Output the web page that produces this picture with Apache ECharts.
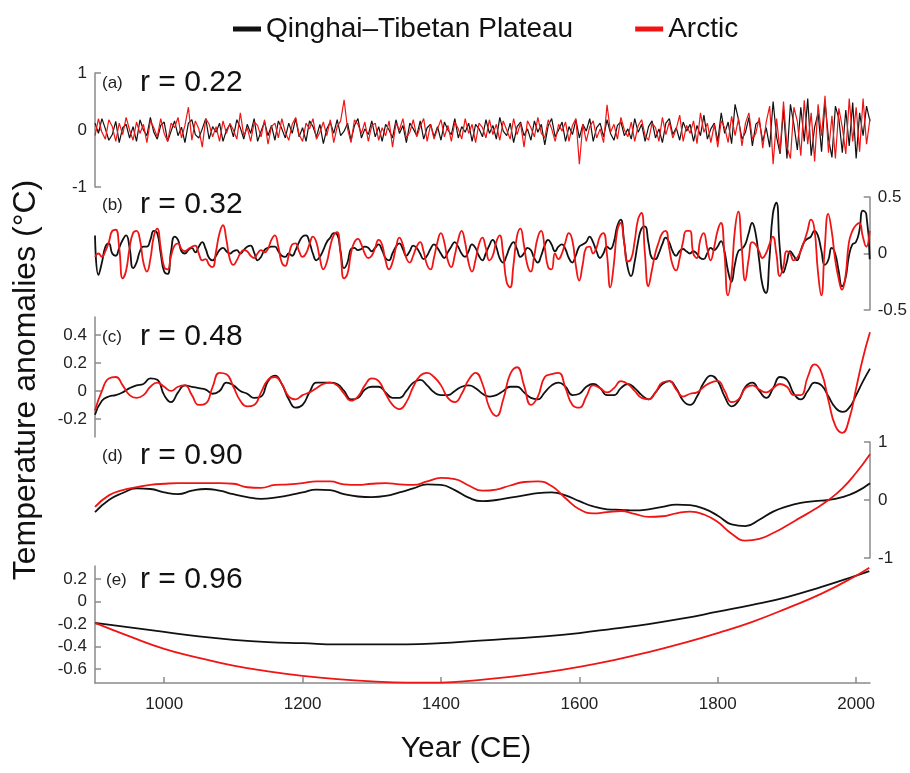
<!DOCTYPE html>
<html>
<head>
<meta charset="utf-8">
<title>Qinghai–Tibetan Plateau vs Arctic</title>
<script src="https://cdn.jsdelivr.net/npm/echarts@6/dist/echarts.min.js"></script>
<style>
  html, body { margin: 0; padding: 0; background: #fff; }
  #chart { width: 910px; height: 773px; }
</style>
</head>
<body>
<div id="chart"></div>
<script>
// series names + panel captions
const seriesNames = ['Qinghai–Tibetan Plateau', 'Arctic'];
const panelTags = ['(a)', '(b)', '(c)', '(d)', '(e)'];
const rTexts = ['r = 0.22', 'r = 0.32', 'r = 0.48', 'r = 0.90', 'r = 0.96'];
const xTicks = [1000, 1200, 1400, 1600, 1800, 2000];

// (a) high-frequency signal, every 5 years from 900
const aQtp = [
  0.12,-0.06,0.2,0.02,-0.18,-0.08,0.15,-0.22,0.04,0.1,-0.14,0.06,-0.2,0.18,0.0,-0.1,0.22,-0.04,-0.16,0.08,
  0.14,-0.2,-0.02,0.16,-0.1,0.05,-0.22,0.12,0.18,-0.08,-0.14,0.02,0.2,-0.16,0.06,-0.04,0.12,-0.2,0.0,0.1,
  -0.12,0.18,0.04,-0.16,0.1,-0.06,0.2,-0.2,-0.02,0.14,-0.1,0.08,-0.18,0.16,0.02,-0.14,0.12,-0.06,0.2,-0.12,
  0.04,-0.2,0.16,0.06,-0.12,0.1,-0.24,0.02,0.14,-0.06,0.18,-0.1,-0.02,0.12,-0.18,0.08,0.2,-0.14,0.02,-0.08,
  0.16,-0.12,0.06,-0.2,0.1,0.0,-0.14,0.18,-0.06,0.08,-0.22,0.12,0.02,-0.1,0.16,-0.16,0.04,0.1,-0.12,0.06,
  -0.18,0.14,0.0,-0.08,0.2,-0.14,0.06,-0.04,0.12,-0.2,0.1,0.02,-0.12,0.18,-0.06,0.08,-0.16,0.22,-0.02,-0.1,
  0.12,-0.22,0.06,0.14,-0.1,0.02,-0.18,0.16,-0.04,0.1,-0.26,0.08,0.2,-0.12,0.0,0.14,-0.2,0.06,-0.08,0.18,
  -0.14,0.1,-0.02,0.2,-0.2,0.04,0.12,-0.12,0.18,-0.06,-0.18,0.08,0.14,-0.1,0.02,-0.16,0.2,-0.04,0.1,-0.2,
  0.06,0.16,-0.14,0.02,-0.22,0.12,0.2,-0.08,0.04,-0.18,0.14,-0.02,0.1,-0.2,0.08,-0.1,0.26,-0.16,0.02,0.12,
  -0.2,0.3,-0.06,0.14,-0.24,0.45,0.18,-0.16,-0.04,0.22,-0.28,0.1,0.16,-0.2,0.04,-0.3,0.5,-0.12,-0.42,0.36,
  -0.5,0.45,0.1,-0.35,0.4,-0.2,0.55,-0.45,0.05,0.3,-0.38,0.5,-0.15,-0.48,0.42,0.2,-0.4,0.35,-0.28,0.48,
  -0.5,0.3,-0.1,0.42,0.15
];
const aArc = [
  -0.1,0.2,-0.04,-0.16,0.18,0.06,-0.2,0.12,-0.08,0.22,0.0,-0.18,0.14,-0.06,0.1,-0.22,0.16,0.04,-0.12,0.2,
  -0.06,-0.2,0.12,0.04,0.22,-0.14,0.08,0.4,-0.18,0.16,0.02,-0.3,0.2,0.1,-0.12,0.06,-0.2,0.16,-0.06,0.12,
  0.0,-0.16,0.3,-0.1,0.04,-0.2,0.14,0.08,-0.12,0.18,-0.25,0.06,0.12,-0.14,0.2,-0.04,-0.18,0.1,0.22,-0.08,
  -0.2,0.12,0.02,0.2,-0.16,-0.04,0.14,-0.1,0.18,-0.22,0.06,0.16,0.53,0.02,-0.22,0.18,0.1,-0.06,0.14,-0.2,
  0.08,0.12,-0.18,0.04,-0.1,0.16,-0.3,0.12,0.0,0.2,-0.14,-0.04,0.18,-0.12,0.06,0.2,-0.2,0.1,-0.16,0.02,
  0.18,-0.12,0.08,-0.2,0.14,0.02,-0.16,0.2,-0.06,0.1,-0.22,0.12,0.04,-0.14,0.18,-0.08,0.1,-0.18,0.16,0.0,
  -0.16,0.2,-0.08,0.12,-0.3,0.16,0.04,-0.12,0.22,-0.06,-0.14,0.18,0.02,-0.2,0.1,-0.02,0.14,-0.2,0.08,0.2,
  -0.6,0.1,-0.2,0.06,0.16,-0.14,0.02,-0.22,0.44,-0.04,0.1,-0.16,0.22,0.0,-0.12,0.14,-0.2,0.08,0.18,-0.1,
  -0.18,0.12,0.04,-0.2,0.22,-0.08,0.14,-0.14,0.02,0.26,-0.2,0.08,-0.06,0.16,-0.24,0.3,-0.04,0.12,-0.22,0.1,
  -0.3,0.16,0.04,-0.22,0.24,-0.1,0.2,-0.28,0.12,0.3,-0.16,-0.06,0.22,-0.32,0.14,0.42,-0.6,0.2,-0.38,0.5,
  -0.3,-0.5,0.4,0.15,-0.45,0.52,-0.25,0.3,-0.55,0.45,-0.1,0.6,-0.4,0.25,-0.5,0.38,0.05,-0.42,0.55,-0.2,
  0.4,-0.38,0.55,-0.25,0.2
];

// (b) every 5 years from 900
const bQtp = [
  0.16,-0.19,-0.08,0.06,0.09,0.0,-0.02,0.05,0.12,0.16,0.05,-0.13,-0.08,0.02,0.06,0.06,0.12,0.2,0.18,0.0,
  -0.16,-0.18,0.02,0.15,0.12,0.02,0.0,0.03,0.05,0.01,0.06,0.1,0.04,-0.04,-0.06,-0.02,0.03,0.05,0.02,0.0,
  0.02,0.03,0.0,0.03,0.06,0.07,0.01,-0.06,-0.03,0.03,0.05,0.06,0.06,0.02,-0.02,-0.03,0.0,-0.02,0.03,0.1,
  0.15,0.16,0.1,0.0,-0.06,-0.03,0.03,0.1,0.14,0.18,0.17,0.02,-0.13,-0.08,0.04,0.05,0.03,0.04,0.06,0.05,
  0.02,0.05,0.08,0.03,-0.04,-0.06,0.0,0.06,0.09,0.04,-0.02,0.02,0.07,0.05,0.0,-0.05,-0.02,0.04,0.08,0.05,
  0.0,-0.04,0.01,0.06,0.1,0.06,0.0,-0.03,0.02,0.08,0.05,-0.02,-0.06,0.0,0.07,0.12,0.06,-0.04,-0.08,-0.02,
  0.06,0.1,0.04,-0.03,0.0,0.05,0.03,-0.04,-0.08,-0.02,0.07,0.12,0.08,0.02,0.06,0.08,0.04,-0.04,-0.08,-0.02,
  0.06,0.08,0.1,0.15,0.1,0.02,-0.04,0.0,0.06,0.04,0.1,0.24,0.3,0.1,-0.12,-0.2,-0.08,0.1,0.22,0.24,
  0.1,-0.04,-0.05,0.0,0.08,0.14,0.1,0.02,-0.02,0.02,0.04,0.02,0.0,0.02,0.0,-0.04,-0.05,0.0,0.05,0.03,
  0.06,0.11,0.02,-0.15,-0.25,-0.1,0.02,0.04,0.08,0.18,0.27,0.18,-0.05,-0.28,-0.35,-0.05,0.35,0.45,0.05,-0.17,
  -0.08,0.02,-0.02,-0.06,0.02,0.1,0.13,0.15,0.2,0.16,0.03,-0.1,-0.06,0.05,0.0,-0.15,-0.29,-0.22,-0.02,0.08,
  0.1,0.2,0.38,0.35,-0.05
];
const bArc = [
  -0.03,0.0,-0.03,0.02,0.1,0.2,0.21,0.05,-0.22,-0.15,0.05,0.18,0.2,0.12,-0.08,-0.16,-0.05,0.15,0.22,0.05,
  -0.12,-0.14,-0.02,0.07,0.09,0.04,0.02,0.04,0.06,0.07,0.0,-0.06,-0.05,-0.1,-0.12,0.02,0.18,0.25,0.12,-0.05,
  -0.1,-0.06,0.0,0.03,0.02,-0.02,-0.04,0.0,0.03,0.01,0.04,0.12,0.16,0.06,-0.08,-0.11,-0.02,0.08,0.09,0.02,
  -0.03,0.0,0.08,0.15,0.1,-0.04,-0.14,-0.08,0.06,0.16,0.19,0.0,-0.22,-0.18,0.0,0.1,0.13,0.08,0.0,-0.04,
  -0.02,0.05,0.12,0.08,-0.06,-0.14,-0.08,0.05,0.14,0.08,-0.04,-0.08,-0.02,0.06,0.1,0.02,-0.1,-0.14,-0.04,0.1,
  0.18,0.1,-0.06,-0.12,-0.02,0.12,0.2,0.1,-0.08,-0.16,-0.06,0.08,0.14,0.05,-0.06,-0.02,0.1,0.16,0.0,-0.25,
  -0.3,-0.1,0.15,0.22,0.08,-0.1,-0.16,-0.02,0.14,0.2,0.06,-0.12,-0.14,0.0,-0.05,0.0,0.1,0.18,0.12,-0.1,
  -0.24,-0.1,0.05,0.06,0.0,0.05,0.15,0.18,0.0,-0.3,-0.1,0.2,0.27,0.1,-0.07,-0.05,0.1,0.3,0.36,0.0,
  -0.29,-0.15,0.0,0.1,0.18,0.2,0.05,-0.1,-0.15,-0.05,0.1,0.2,0.2,0.0,-0.04,0.12,0.18,0.05,-0.06,0.05,
  0.2,0.27,0.0,-0.37,-0.2,0.2,0.37,0.05,-0.24,-0.05,0.1,0.08,0.02,-0.04,0.0,0.08,0.15,0.0,-0.2,-0.12,
  0.02,0.0,-0.06,-0.04,0.02,0.1,0.2,0.3,0.22,-0.15,-0.37,0.05,0.35,0.2,-0.05,-0.22,-0.32,-0.2,0.1,0.2,
  0.25,0.27,0.15,0.06,0.2
];

// (c) every 10 years from 900
const cQtp = [
  -0.17,-0.07,-0.04,-0.03,-0.01,0.02,0.04,0.05,0.09,0.08,
  -0.03,-0.08,-0.01,0.04,0.03,0.02,0.01,-0.02,0.0,0.06,
  0.04,0.0,-0.02,-0.05,-0.04,0.07,0.11,0.05,-0.06,-0.12,
  -0.1,-0.01,0.06,0.06,0.06,0.05,0.0,-0.06,-0.05,0.01,
  0.03,0.03,-0.01,-0.05,-0.05,0.0,0.06,0.08,0.04,-0.01,
  -0.03,-0.03,0.0,0.03,0.04,0.02,-0.02,-0.04,-0.03,0.0,
  0.03,0.03,-0.01,-0.05,-0.06,-0.01,0.04,0.06,0.03,-0.03,
  -0.02,0.03,0.05,0.02,-0.03,-0.03,0.02,0.05,0.02,-0.03,
  -0.06,-0.01,0.05,0.07,0.02,-0.07,-0.1,-0.04,0.06,0.11,
  0.07,-0.04,-0.11,-0.07,0.03,0.06,0.0,-0.05,0.02,0.1,
  0.08,-0.02,-0.06,0.0,0.06,0.04,-0.04,-0.12,-0.15,-0.12,
  -0.03,0.07,0.16
];
const cArc = [
  -0.14,0.0,0.09,0.1,0.04,-0.03,-0.05,-0.03,0.03,0.06,
  0.03,0.0,0.03,0.04,-0.03,-0.1,-0.09,0.03,0.13,0.12,
  0.03,-0.07,-0.11,-0.1,-0.01,0.08,0.1,0.05,-0.04,-0.06,
  -0.03,-0.01,0.02,0.05,0.06,0.04,-0.02,-0.07,-0.04,0.04,
  0.09,0.07,-0.02,-0.1,-0.13,-0.08,0.03,0.11,0.13,0.1,
  0.04,-0.05,-0.08,-0.02,0.08,0.13,0.05,-0.12,-0.18,-0.06,
  0.12,0.17,0.04,-0.1,-0.04,0.1,0.12,0.13,0.02,-0.1,
  -0.12,-0.04,0.04,0.02,-0.01,0.02,0.07,0.05,0.0,-0.05,
  -0.06,-0.01,0.06,0.07,0.01,-0.04,-0.02,-0.01,0.03,0.06,
  0.07,0.0,-0.08,-0.06,0.02,0.04,0.01,-0.01,0.02,0.05,
  0.03,-0.03,-0.03,0.1,0.19,0.13,-0.07,-0.25,-0.3,-0.2,
  0.02,0.24,0.42
];

// (d) every 20 years from 900
const dQtp = [
  -0.21,0.0,0.12,0.2,0.19,
  0.13,0.1,0.16,0.19,0.16,
  0.1,0.05,0.02,0.04,0.08,
  0.13,0.18,0.17,0.1,0.06,
  0.05,0.07,0.13,0.2,0.27,
  0.26,0.17,0.04,-0.02,0.0,
  0.04,0.08,0.12,0.13,0.08,
  -0.02,-0.11,-0.16,-0.17,-0.18,
  -0.16,-0.12,-0.08,-0.09,-0.15,
  -0.27,-0.42,-0.45,-0.34,-0.2,
  -0.11,-0.05,-0.02,0.0,0.05,
  0.14,0.29
];
const dArc = [
  -0.12,0.08,0.17,0.22,0.26,
  0.28,0.29,0.29,0.29,0.29,
  0.28,0.22,0.21,0.26,0.27,
  0.29,0.32,0.32,0.27,0.26,
  0.28,0.29,0.27,0.26,0.32,
  0.38,0.36,0.25,0.16,0.18,
  0.25,0.31,0.32,0.24,0.03,
  -0.16,-0.23,-0.21,-0.19,-0.24,
  -0.29,-0.28,-0.23,-0.2,-0.25,
  -0.38,-0.58,-0.7,-0.67,-0.57,
  -0.44,-0.3,-0.16,0.0,0.2,
  0.47,0.79
];

// (e) long-term trend
const eYears = [900,950,1000,1050,1100,1150,1200,1250,1300,1350,1400,1450,1500,1550,1600,1650,1700,1750,1800,1850,1900,1950,2000,2019];
const eQtp = [-0.19,-0.23,-0.27,-0.31,-0.34,-0.36,-0.37,-0.38,-0.38,-0.38,-0.37,-0.35,-0.33,-0.31,-0.28,-0.24,-0.2,-0.15,-0.09,-0.03,0.04,0.13,0.23,0.27];
const eArc = [-0.19,-0.31,-0.42,-0.5,-0.57,-0.62,-0.66,-0.69,-0.71,-0.72,-0.72,-0.7,-0.67,-0.63,-0.58,-0.52,-0.45,-0.37,-0.28,-0.18,-0.06,0.07,0.23,0.3];

const pairs = (start, step, vals) => vals.map((v, i) => [start + i * step, v]);

const FONT = "'Liberation Sans', Arial, Helvetica, sans-serif";
const AXIS_GREY = '#8a8a8a';
const LINE_COLORS = ['#111111', '#f01414'];

// panel layout: top, height, y range, side, ticks
const panels = [
  { top: 73,  height: 114, min: -1,     max: 1,     side: 'left',  ticks: [-1, 0, 1] },
  { top: 197, height: 113, min: -0.5,   max: 0.5,   side: 'right', ticks: [-0.5, 0, 0.5] },
  { top: 317, height: 120, min: -0.33,  max: 0.53,  side: 'left',  ticks: [-0.2, 0, 0.2, 0.4] },
  { top: 442, height: 116, min: -1,     max: 1,     side: 'right', ticks: [-1, 0, 1] },
  { top: 566, height: 117, min: -0.724, max: 0.316, side: 'left',  ticks: [-0.6, -0.4, -0.2, 0, 0.2] }
];
const labelY = [83, 205, 337, 456, 580];

const data = [
  [pairs(900, 5, aQtp), pairs(900, 5, aArc)],
  [pairs(900, 5, bQtp), pairs(900, 5, bArc)],
  [pairs(900, 10, cQtp), pairs(900, 10, cArc)],
  [pairs(900, 20, dQtp), pairs(900, 20, dArc)],
  [eYears.map((y, i) => [y, eQtp[i]]), eYears.map((y, i) => [y, eArc[i]])]
];

const grid = panels.map(p => ({ left: 95, right: 40, top: p.top, height: p.height }));

const xAxis = panels.map((p, i) => ({
  type: 'value',
  gridIndex: i,
  min: 900,
  max: 2020,
  show: i === 4,
  axisLine: { onZero: false, lineStyle: { color: AXIS_GREY, width: 1.5 } },
  axisTick: { inside: true, length: 6, customValues: xTicks, lineStyle: { color: AXIS_GREY, width: 1.5 } },
  axisLabel: { customValues: xTicks, formatter: v => String(v), margin: 13, color: '#222', fontSize: 17, fontFamily: FONT },
  splitLine: { show: false }
}));

const yAxis = panels.map((p, i) => ({
  type: 'value',
  gridIndex: i,
  position: p.side,
  min: p.min,
  max: p.max,
  axisLine: { show: true, onZero: false, lineStyle: { color: AXIS_GREY, width: 1.5 } },
  axisTick: { show: true, inside: true, length: 6, customValues: p.ticks, lineStyle: { color: AXIS_GREY, width: 1.5 } },
  axisLabel: { customValues: p.ticks, margin: 8, color: '#222', fontSize: 17, fontFamily: FONT },
  splitLine: { show: false }
}));

const series = [];
data.forEach((pair, i) => {
  pair.forEach((pts, k) => {
    series.push({
      name: seriesNames[k],
      type: 'line',
      xAxisIndex: i,
      yAxisIndex: i,
      data: pts,
      showSymbol: false,
      smooth: i === 0 ? false : 0.5,
      lineStyle: { color: LINE_COLORS[k], width: i === 0 ? 1.2 : 1.8 },
      itemStyle: { color: LINE_COLORS[k] },
      z: 2 + k
    });
  });
});

const graphic = [
  {
    type: 'text', x: 26, y: 380, rotation: Math.PI / 2,
    style: { text: 'Temperature anomalies (°C)', font: '32px ' + FONT, fill: '#111', align: 'center', verticalAlign: 'middle' }
  },
  {
    type: 'text', x: 466, y: 749,
    style: { text: 'Year (CE)', font: '30px ' + FONT, fill: '#111', align: 'center', verticalAlign: 'middle' }
  }
];
panelTags.forEach((tag, i) => {
  graphic.push({
    type: 'text', x: i === 4 ? 106 : 102, y: labelY[i],
    style: { text: tag, font: '17px ' + FONT, fill: '#222', align: 'left', verticalAlign: 'middle' }
  });
  graphic.push({
    type: 'text', x: 140, y: labelY[i],
    style: { text: rTexts[i], font: '30px ' + FONT, fill: '#111', align: 'left', verticalAlign: 'middle' }
  });
});

const chart = echarts.init(document.getElementById('chart'), null, { renderer: 'canvas' });
chart.setOption({
  backgroundColor: '#ffffff',
  animation: false,
  textStyle: { fontFamily: FONT },
  legend: {
    data: seriesNames,
    top: 10,
    left: 228,
    icon: 'rect',
    itemWidth: 28,
    itemHeight: 5,
    itemGap: 62,
    textStyle: { fontSize: 28, color: '#111', fontFamily: FONT }
  },
  grid,
  xAxis,
  yAxis,
  series,
  graphic
});
</script>
</body>
</html>
